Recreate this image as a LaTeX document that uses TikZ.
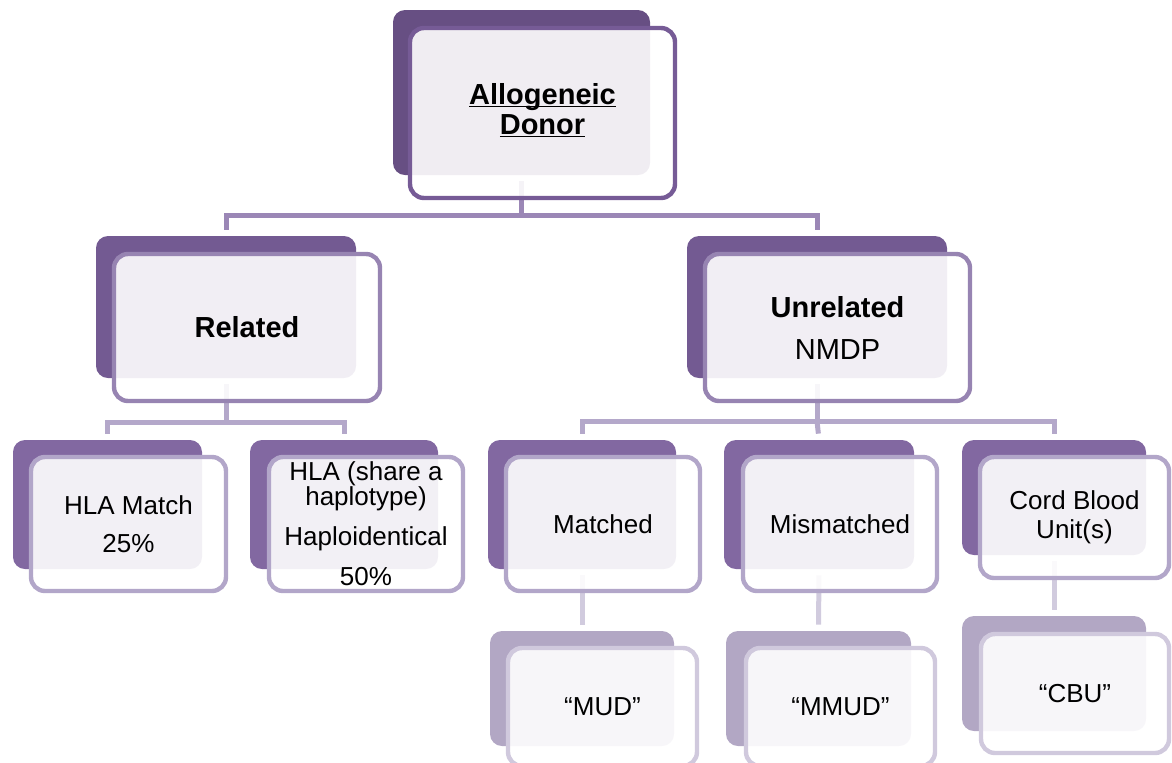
\documentclass[tikz,border=0pt]{standalone}
\usepackage{fontspec}
\setmainfont{Liberation Sans}
\definecolor{backA}{HTML}{674F83}
\definecolor{lineA}{HTML}{765B96}
\definecolor{backB}{HTML}{735A92}
\definecolor{lineB}{HTML}{9784B2}
\definecolor{backC}{HTML}{8268A1}
\definecolor{lineC}{HTML}{B2A6C9}
\definecolor{backD}{HTML}{B2A7C4}
\definecolor{lineD}{HTML}{D0C9DD}
\definecolor{busA}{HTML}{9B87B6}
\definecolor{busB}{HTML}{B4A8CA}
\definecolor{busC}{HTML}{D1CBDE}
\pgfdeclarelayer{bg}
\pgfsetlayers{bg,main}

\tikzset{
    back/.style={rounded corners=6pt, inner sep=0pt},
    front/.style={rounded corners=7pt, fill=white, fill opacity=0.9, text opacity=1,
        line width=2.2pt, align=center, inner sep=0pt},
    conn/.style={line width=2.5pt, shorten <=3pt, shorten >=3pt},
}

\begin{document}
\begin{tikzpicture}[x=0.5pt, y=-0.5pt]
    \useasboundingbox (0,0) rectangle (1172,762);
    \clip (0,0) rectangle (1172,762);

    % Top level
    \node[back, fill=backA, minimum width=128.5pt, minimum height=82.5pt] (donorB) at (521.5,92.5) {};
    \node[front, draw=lineA, minimum width=132.5pt, minimum height=85pt,
        font=\fontsize{14.5}{15}\selectfont\bfseries] (donor) at (542.5,113)
        {\underline{\smash{Allogeneic}}\strut\\\underline{\smash{Donor}}\strut};

    % Second level
    \node[back, fill=backB, minimum width=130pt, minimum height=71pt] (relB) at (226,307) {};
    \node[front, draw=lineB, minimum width=133pt, minimum height=73.5pt,
        font=\fontsize{14.5}{15}\selectfont] (rel) at (247,327.5) {\textbf{Related}};
    \node[back, fill=backB, minimum width=130pt, minimum height=71pt] (unrelB) at (817,307) {};
    \node[front, draw=lineB, minimum width=132.5pt, minimum height=73.5pt,
        font=\fontsize{14.5}{14}\selectfont] (unrel) at (837.5,327.5) {\textbf{Unrelated}\\[7pt]NMDP};

    % Third level
    \node[back, fill=backC, minimum width=94.5pt, minimum height=64.5pt] (matchB) at (107.5,504.5) {};
    \node[front, draw=lineC, minimum width=97.5pt, minimum height=67pt,
        font=\fontsize{13}{12.5}\selectfont] (match) at (128.5,524) {HLA Match\\[6.5pt]25\%};
    \node[back, fill=backC, minimum width=94pt, minimum height=64.5pt] (haploB) at (344,504.5) {};
    \node[front, draw=lineC, minimum width=97pt, minimum height=67pt,
        font=\fontsize{13}{12.5}\selectfont] (haplo) at (366,524)
        {HLA (share a\\haplotype)\\[7.5pt]Haploidentical\\[7.5pt]50\%};
    \node[back, fill=backC, minimum width=94pt, minimum height=64.5pt] (mudpB) at (582,504.5) {};
    \node[front, draw=lineC, minimum width=97pt, minimum height=67pt,
        font=\fontsize{13}{12.5}\selectfont] (mudp) at (603,524) {Matched};
    \node[back, fill=backC, minimum width=95pt, minimum height=64.5pt] (mmudpB) at (819,504.5) {};
    \node[front, draw=lineC, minimum width=97pt, minimum height=67pt,
        font=\fontsize{13}{12.5}\selectfont] (mmudp) at (840,524) {Mismatched};
    \node[back, fill=backC, minimum width=92pt, minimum height=57.5pt] (cordB) at (1054,497.5) {};
    \node[front, draw=lineC, minimum width=94.5pt, minimum height=60.5pt,
        font=\fontsize{13}{14.5}\selectfont] (cord) at (1074.5,517.5) {Cord Blood\\Unit(s)};

    % Fourth level
    \node[back, fill=backD, minimum width=92pt, minimum height=57.5pt] (mudB) at (582,688.5) {};
    \node[front, draw=lineD, minimum width=94.5pt, minimum height=59pt,
        font=\fontsize{13}{12.5}\selectfont] (mud) at (602.5,707) {“MUD”};
    \node[back, fill=backD, minimum width=92.5pt, minimum height=57.5pt] (mmudB) at (818.5,688.5) {};
    \node[front, draw=lineD, minimum width=94.5pt, minimum height=59pt,
        font=\fontsize{13}{12.5}\selectfont] (mmud) at (840.5,707) {“MMUD”};
    \node[back, fill=backD, minimum width=92pt, minimum height=57.5pt] (cbuB) at (1054,673.5) {};
    \node[front, draw=lineD, minimum width=94pt, minimum height=59.5pt,
        font=\fontsize{13}{12.5}\selectfont] (cbu) at (1075,693.5) {“CBU”};

    % Connectors behind the boxes
    \begin{pgfonlayer}{bg}
        \coordinate (busA) at (521.5,215);
        \coordinate (busB) at (226,422);
        \coordinate (busC) at (817,421);
        \draw[conn, busA, shorten >=0pt] (donorB.south) -- (busA);
        \draw[conn, busA] (relB.north) |- (busA) -| (unrelB.north);
        \draw[conn, busB, shorten >=0pt] (relB.south) -- (busB);
        \draw[conn, busB] (matchB.north) |- (busB) -| (haploB.north);
        \draw[conn, busB, shorten >=0pt] (unrelB.south) -- (busC);
        \draw[conn, busB] (mudpB.north) |- (busC) -| (cordB.north);
        \draw[conn, busB, shorten <=0pt] (busC) -- (mmudpB.north);
        \draw[conn, busC] (mudpB.south) -- (mudB.north);
        \draw[conn, busC] (mmudpB.south) -- (mmudB.north);
        \draw[conn, busC] (cordB.south) -- (cbuB.north);
    \end{pgfonlayer}
\end{tikzpicture}
\end{document}
